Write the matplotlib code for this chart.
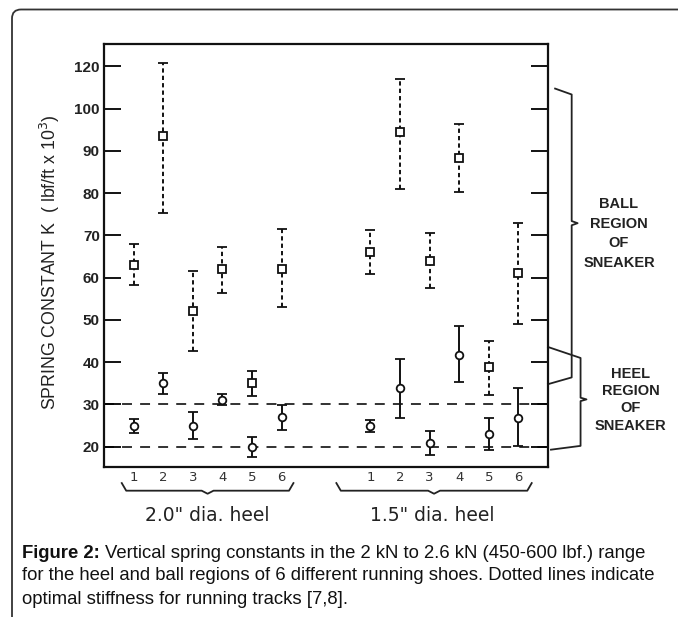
import numpy as np
import matplotlib
matplotlib.use("Agg")
from matplotlib import pyplot as plt
from matplotlib.patches import FancyBboxPatch
from matplotlib.transforms import IdentityTransform

# shoe numbers and x positions of the two heel-diameter groups
shoes = [1, 2, 3, 4, 5, 6]
pos_20 = [1, 2, 3, 4, 5, 6]
pos_15 = [9, 10, 11, 12, 13, 14]
group_labels = ['2.0" dia. heel', '1.5" dia. heel']

# 2.0" heel group
ball_20 = [63, 93.5, 52, 62, 35, 62]
ball_20_lo = [58.2, 75.2, 42.7, 56.4, 32.0, 53.0]
ball_20_hi = [67.9, 121.5, 61.5, 67.3, 37.8, 71.5]
ball_20_dashed = [True, True, True, True, False, True]
heel_20 = [25, 35, 25, 31, 20, 27]
heel_20_lo = [23.3, 32.5, 21.8, 29.8, 17.5, 24.0]
heel_20_hi = [26.6, 37.4, 28.3, 32.5, 22.3, 29.8]

# 1.5" heel group
ball_15 = [66.1, 94.5, 63.9, 88.3, 38.9, 61]
ball_15_lo = [60.9, 81.0, 57.5, 80.2, 32.3, 49.0]
ball_15_hi = [71.3, 114.0, 70.5, 96.3, 45.1, 72.9]
heel_15 = [24.8, 33.9, 20.9, 41.8, 22.9, 26.8]
heel_15_lo = [23.4, 26.8, 18.0, 35.3, 19.3, 20.1]
heel_15_hi = [26.3, 40.7, 23.8, 48.6, 26.8, 33.8]

track_band = [20, 30]
yticks = [20, 30, 40, 50, 60, 70, 80, 90, 100, 120]

SANS = ['Liberation Sans', 'DejaVu Sans']


def fwd(y):
    y = np.asarray(y, dtype=float)
    return np.where(y <= 100, y, 100 + (y - 100) * 0.5)


def inv(y):
    y = np.asarray(y, dtype=float)
    return np.where(y <= 100, y, 100 + (y - 100) * 2.0)


def draw(ax, x, y, lo, hi, marker, dashed):
    y = np.array(y)
    err = [y - np.array(lo), np.array(hi) - y]
    eb = ax.errorbar(x, y, yerr=err, fmt=marker, ms=5.5, mfc='white', mec='#111',
                     mew=1.3, ecolor='#111', elinewidth=1.4, capsize=3.5,
                     capthick=1.4, zorder=3)
    if dashed:
        eb[2][0].set_linestyle((0, (2.2, 1.6)))
    return eb


fig = plt.figure(figsize=(6.78, 6.17), dpi=100)
ax = fig.add_axes([104 / 678, 1 - 467 / 617, 444 / 678, 423 / 617])
ax.set_yscale('function', functions=(fwd, inv))

# ball region (squares, dashed bars), heel region (circles, solid bars)
for i in range(6):
    draw(ax, [pos_20[i]], [ball_20[i]], [ball_20_lo[i]], [ball_20_hi[i]], 's', ball_20_dashed[i])
draw(ax, pos_15, ball_15, ball_15_lo, ball_15_hi, 's', True)
draw(ax, pos_20, heel_20, heel_20_lo, heel_20_hi, 'o', False)
draw(ax, pos_15, heel_15, heel_15_lo, heel_15_hi, 'o', False)

for v in track_band:
    ax.axhline(v, color='#222', lw=1.3, ls=(0, (5.5, 4.5)), zorder=1)

ax.set_xlim(0, 15)
ax.set_ylim(15.2, 130.6)
ax.set_yticks(yticks)
ax.set_yticklabels([str(t) for t in yticks], family=SANS, fontsize=11,
                   fontweight='bold', color='#222')
ax.set_xticks(pos_20 + pos_15)
ax.set_xticklabels([str(s) for s in shoes] * 2, fontsize=9.5, color='#333')
ax.tick_params(axis='y', direction='in', length=12, width=1.3, right=True, pad=3)
ax.tick_params(axis='x', length=0, pad=3)
for s in ax.spines.values():
    s.set_linewidth(1.6)
    s.set_color('#111')

fig.text(50 / 678, 1 - 262 / 617, 'SPRING CONSTANT K  ( lbf/ft x 10$^3$)',
         rotation=90, ha='center', va='center', fontsize=12.8, family=SANS, color='#222')

# braces under the groups
def hbrace(x0, x1, y_top, depth):
    xm = (x0 + x1) / 2
    xs = [x0, x0 + 0.15, xm - 0.2, xm, xm + 0.2, x1 - 0.15, x1]
    ys = [y_top, y_top - depth, y_top - depth, y_top - depth * 1.4,
          y_top - depth, y_top - depth, y_top]
    ax.plot(xs, ys, color='#222', lw=1.3, clip_on=False,
            transform=ax.get_xaxis_transform())


hbrace(0.6, 6.4, -0.038, 0.018)
hbrace(7.85, 14.45, -0.038, 0.018)
ax.text(3.5, -0.115, group_labels[0], transform=ax.get_xaxis_transform(),
        ha='center', va='center', fontsize=13.5, color='#222')
ax.text(11.1, -0.115, group_labels[1], transform=ax.get_xaxis_transform(),
        ha='center', va='center', fontsize=13.5, color='#222')

# brackets on the right
ax.plot([15.24, 15.8, 15.8, 16.0, 15.8, 15.8, 15.0],
        [109.5, 106.7, 73.4, 72.9, 72.4, 36.4, 34.8], color='#222', lw=1.3, clip_on=False)
ax.plot([15.0, 16.1, 16.1, 16.3, 16.1, 16.1, 15.1],
        [43.6, 41.0, 31.6, 31.2, 30.8, 20.2, 19.3], color='#222', lw=1.3, clip_on=False)
ax.text(17.4, 70.4, 'BALL\nREGION\nOF\nSNEAKER', ha='center', va='center',
        fontsize=10.5, family=SANS, fontweight='bold', color='#222', linespacing=1.5)
ax.text(17.8, 31.1, 'HEEL\nREGION\nOF\nSNEAKER', ha='center', va='center',
        fontsize=10.5, family=SANS, fontweight='bold', color='#222', linespacing=1.3)

# caption
cap = dict(fontsize=13.3, family=SANS, va='center', color='#111')
lead = fig.text(22 / 678, 1 - 553 / 617, 'Figure 2: ', fontweight='bold', **cap)
fig.canvas.draw()
x_after = lead.get_window_extent().x1 / 678
fig.text(x_after, 1 - 553 / 617,
         'Vertical spring constants in the 2 kN to 2.6 kN (450-600 lbf.) range', **cap)
fig.text(22 / 678, 1 - 576 / 617,
         'for the heel and ball regions of 6 different running shoes. Dotted lines indicate',
         **cap)
fig.text(22 / 678, 1 - 599 / 617, 'optimal stiffness for running tracks [7,8].', **cap)

# outer frame with rounded top-left corner
frame = FancyBboxPatch((12, -40), 720, 617 - 9.5 + 40,
                       boxstyle='round,pad=0,rounding_size=9',
                       transform=IdentityTransform(), fill=False,
                       ec='#333', lw=1.3)
fig.patches.append(frame)

fig.savefig('out.png', dpi=100)
